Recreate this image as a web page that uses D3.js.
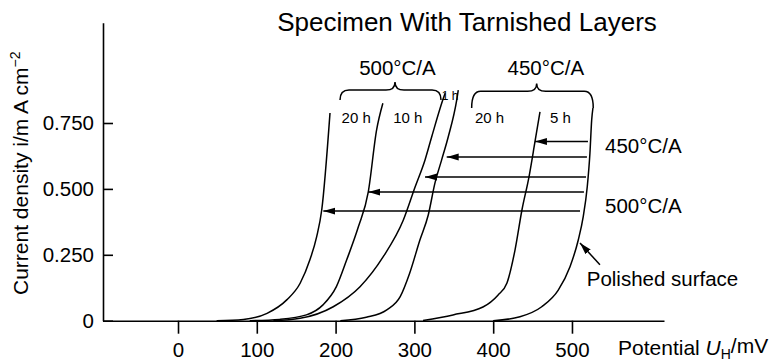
<!DOCTYPE html>
<html>
<head>
<meta charset="utf-8">
<script src="https://cdn.jsdelivr.net/npm/d3@7"></script>
<style>
    body { margin: 0; background: #fff; }
    text { font-family: "Liberation Sans", Arial, Helvetica, sans-serif; fill: #000; }
</style>
</head>
<body>
<svg id="chart"></svg>
<script>
// potential (mV) and current density (mA/cm2)
const mvTicks = [0, 100, 200, 300, 400, 500];
const currentTicks = [0, 0.25, 0.5, 0.75];
const currentTickLabels = ['0', '0.250', '0.500', '0.750'];

const tarnish500h20 = [[49, 0], [83, 0.005], [113, 0.028], [138, 0.079], [155, 0.142], [167.5, 0.232], [176, 0.319], [182.4, 0.42], [192.9, 0.788]];
const tarnish500h10 = [[91, 0], [129, 0.005], [163, 0.022], [184, 0.06], [201, 0.129], [214, 0.23], [229, 0.357], [241.5, 0.489], [252, 0.723], [260, 0.825]];
const tarnish500h1 = [[121, 0], [155, 0.009], [197, 0.053], [231, 0.129], [260.5, 0.243], [286, 0.382], [301, 0.508], [313.5, 0.61], [322, 0.698], [336, 0.837], [339, 0.863]];
const tarnish450h20 = [[206, 0], [239, 0.013], [265, 0.041], [282, 0.091], [294, 0.18], [307, 0.306], [317.6, 0.401], [326, 0.521], [334.6, 0.61], [343, 0.698], [353.7, 0.837], [355.7, 0.875]];
const tarnish450h5 = [[311, 0.001], [349, 0.022], [387, 0.052], [406, 0.097], [417.5, 0.143], [427.7, 0.268], [436.5, 0.42], [445.4, 0.545], [453, 0.678], [459.4, 0.792]];
const polished = [[400, 0], [434, 0.015], [461.6, 0.053], [482.6, 0.116], [497.5, 0.205], [508, 0.306], [514.3, 0.395], [519.4, 0.508], [522.8, 0.635], [525, 0.761], [526.6, 0.807]];

// horizontal arrows: current level, tail and tip potential
const arrowLevels = [0.680, 0.621, 0.545, 0.488, 0.416];
const arrowTails = [520.3, 519, 517.8, 515.2, 510.2];
const arrowTips = [453, 341, 313.5, 241.5, 184.4];

const curveLabels = ['20 h', '10 h', '20 h', '5 h'];
const groupLabels = ['500°C/A', '450°C/A'];

class TafelChart {

    constructor(config) {
        this.config = {
            parent: config.parent,
            width: config.width || 770,
            height: config.height || 361
        }
        this.init();
    }

    init() {
        let self = this;

        self.svg = d3.select(self.config.parent)
            .attr('width', self.config.width)
            .attr('height', self.config.height);

        self.xscale = d3.scaleLinear()
            .domain([-95.2, 616.8])
            .range([103, 664]);

        self.yscale = d3.scaleLinear()
            .domain([0, 1.1305])
            .range([320.7, 22.7]);

        self.line = d3.line()
            .x(d => self.xscale(d[0]))
            .y(d => self.yscale(d[1]))
            .curve(d3.curveMonotoneX);

        self.svg.append('defs').append('marker')
            .attr('id', 'head')
            .attr('viewBox', '0 -4 12 8')
            .attr('markerUnits', 'userSpaceOnUse')
            .attr('markerWidth', 12)
            .attr('markerHeight', 8)
            .attr('refX', 12)
            .attr('refY', 0)
            .attr('orient', 'auto')
            .append('path')
            .attr('d', 'M0,-3.5L12,0L0,3.5Z')
            .attr('fill', '#000');
    }

    render() {
        let self = this;
        const x = self.xscale, y = self.yscale;

        // axes
        const xaxis = d3.axisBottom(x)
            .tickValues(mvTicks)
            .tickSizeInner(13)
            .tickSizeOuter(0)
            .tickPadding(9);
        const yaxis = d3.axisLeft(y)
            .tickValues(currentTicks)
            .tickFormat((d, i) => currentTickLabels[i])
            .tickSizeInner(-10)
            .tickSizeOuter(0)
            .tickPadding(9);

        const xg = self.svg.append('g')
            .attr('transform', `translate(0, ${y(0)})`)
            .call(xaxis);
        const yg = self.svg.append('g')
            .attr('transform', `translate(${x.range()[0]}, 0)`)
            .call(yaxis);

        [xg, yg].forEach(g => {
            g.select('.domain').attr('stroke', '#000').attr('stroke-width', 1.6);
            g.selectAll('.tick line').attr('stroke', '#000').attr('stroke-width', 1.6);
            g.selectAll('.tick text')
                .attr('font-family', '"Liberation Sans", Arial, sans-serif')
                .attr('font-size', 20.5)
                .attr('fill', '#000');
        });

        // curves
        const curves = [tarnish500h20, tarnish500h10, tarnish500h1, tarnish450h20, tarnish450h5, polished];
        self.svg.append('g')
            .selectAll('path')
            .data(curves)
            .join('path')
            .attr('d', d => self.line(d))
            .attr('fill', 'none')
            .attr('stroke', '#000')
            .attr('stroke-width', 1.5);

        // arrows
        self.svg.append('g')
            .selectAll('line')
            .data(arrowLevels)
            .join('line')
            .attr('x1', (d, i) => x(arrowTails[i]))
            .attr('x2', (d, i) => x(arrowTips[i]))
            .attr('y1', d => y(d))
            .attr('y2', d => y(d))
            .attr('stroke', '#000')
            .attr('stroke-width', 1.5)
            .attr('marker-end', 'url(#head)');

        self.svg.append('line')
            .attr('x1', x(535.5)).attr('y1', y(0.212))
            .attr('x2', x(510.2)).attr('y2', y(0.295))
            .attr('stroke', '#000')
            .attr('stroke-width', 1.5)
            .attr('marker-end', 'url(#head)');

        // braces
        const brace = (x0, x1, xc, yEnd, yTop, yTip) => {
            const l = x(x0), r = x(x1), c = x(xc);
            const ye = y(yEnd), yh = y(yTop), yt = y(yTip), rad = 9;
            return `M${l},${ye}Q${l},${yh} ${l + rad},${yh}L${c - rad},${yh}` +
                `Q${c},${yh} ${c},${yt}Q${c},${yh} ${c + rad},${yh}` +
                `L${r - rad},${yh}Q${r},${yh} ${r},${ye}`;
        };
        self.svg.append('path')
            .attr('d', brace(205.6, 333.8, 275.4, 0.837, 0.875, 0.906))
            .attr('fill', 'none').attr('stroke', '#000').attr('stroke-width', 1.5);
        self.svg.append('path')
            .attr('d', brace(372.7, 527, 455.2, 0.807, 0.870, 0.900))
            .attr('fill', 'none').attr('stroke', '#000').attr('stroke-width', 1.5);

        // texts
        const text = (tx, ty, s, size, anchor) => self.svg.append('text')
            .attr('x', tx).attr('y', ty)
            .attr('font-size', size)
            .attr('text-anchor', anchor || 'start')
            .text(s);

        text(x(207.6), y(0.75), curveLabels[0], 15);
        text(x(273.1), y(0.75), curveLabels[1], 15);
        text(x(376.9), y(0.75), curveLabels[2], 15);
        text(x(472.1), y(0.75), curveLabels[3], 15);
        text(x(334.6), y(0.837), '1 h', 12);

        text(x(278.5), y(0.932), groupLabels[0], 20.5, 'middle');
        text(x(466.8), y(0.932), groupLabels[1], 20.5, 'middle');
        text(x(541.9), y(0.636), groupLabels[1], 20.5);
        text(x(541.9), y(0.409), groupLabels[0], 20.5);
        text(x(518.7), y(0.132), 'Polished surface', 20.5);

        text(467, 31, 'Specimen With Tarnished Layers', 26, 'middle');

        const ylab = self.svg.append('text')
            .attr('transform', 'translate(28, 295) rotate(-90)')
            .attr('font-size', 21);
        ylab.append('tspan').text('Current density i/m A cm');
        ylab.append('tspan').attr('dy', '-0.55em').attr('font-size', 14).text('\u22122');

        const xlab = self.svg.append('text')
            .attr('x', 618).attr('y', 355)
            .attr('font-size', 21);
        xlab.append('tspan').text('Potential ');
        xlab.append('tspan').attr('font-style', 'italic').text('U');
        xlab.append('tspan').attr('dy', '0.25em').attr('font-size', 14).text('H');
        xlab.append('tspan').attr('dy', '-0.25em').text('/mV');
    }
}

const chart = new TafelChart({ parent: '#chart', width: 770, height: 361 });
chart.render();
</script>
</body>
</html>
